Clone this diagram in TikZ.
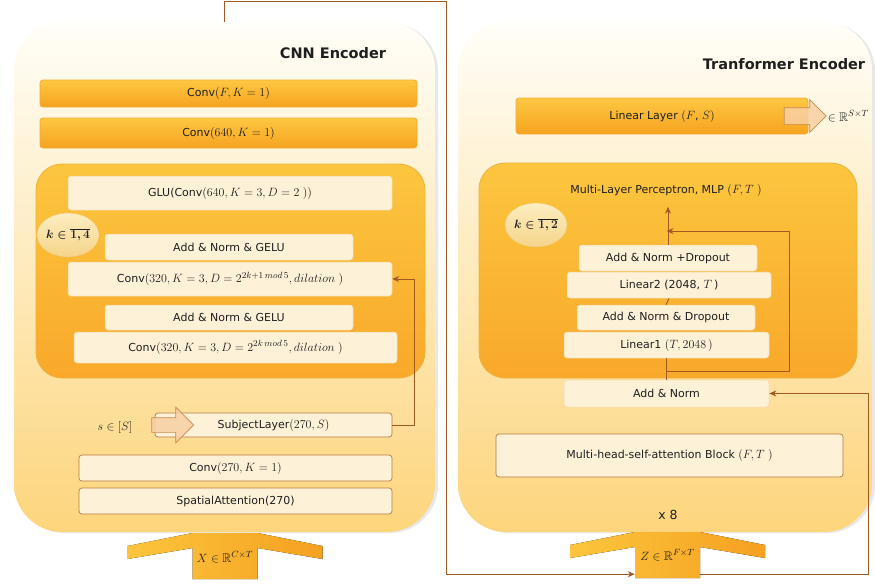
\documentclass[tikz,border=0pt]{standalone}
\usepackage{amsmath,amssymb}
\usepackage{fontspec}
\setmainfont{DejaVu Sans}
\DeclareMathSizes{11}{12.5}{9}{7}
\usetikzlibrary{shapes.geometric,shapes.arrows,shadows,arrows.meta,calc}

\definecolor{panelTop}{HTML}{FFFEF8}
\definecolor{panelBot}{HTML}{FDD57C}
\definecolor{hotTop}{HTML}{FDC742}
\definecolor{hotBot}{HTML}{F6A320}
\definecolor{hotLine}{HTML}{EFAE35}
\definecolor{grpTop}{HTML}{FCC63E}
\definecolor{grpBot}{HTML}{F9A82A}
\definecolor{grpLine}{HTML}{EDB23E}
\definecolor{cream}{HTML}{FDF1D8}
\definecolor{creamLine}{HTML}{F3D7A3}
\definecolor{brownLine}{HTML}{B87A40}
\definecolor{linkCol}{HTML}{A15A22}
\definecolor{peach}{HTML}{F8D0A4}
\definecolor{peachLine}{HTML}{C98A4E}
\definecolor{tagTop}{HTML}{FDEDC0}
\definecolor{tagBot}{HTML}{F5D48B}
\definecolor{tagLine}{HTML}{EFC56A}
\definecolor{inLeft}{HTML}{FCC53D}
\definecolor{inRight}{HTML}{F5A020}

\begin{document}
\begin{tikzpicture}[x=1pt,y=1pt,yscale=-1,xscale=1,
  every node/.style={font=\fontsize{11}{13}\selectfont, text=black!88},
  panel/.style={rounded corners=48, top color=panelTop, bottom color=panelBot,
    drop shadow={opacity=0.18, shadow xshift=3pt, shadow yshift=-1pt}},
  hot/.style={rounded corners=3, top color=hotTop, bottom color=hotBot, draw=hotLine, line width=0.8pt, inner sep=0},
  group/.style={rounded corners=26, top color=grpTop, bottom color=grpBot, draw=grpLine, line width=0.8pt},
  layer/.style={rounded corners=3, fill=cream, draw=creamLine, line width=0.5pt, inner sep=0},
  framed/.style={layer, draw=brownLine, line width=0.7pt},
  tag/.style={ellipse, top color=tagTop, bottom color=tagBot, draw=tagLine, inner sep=0,
    minimum width=55, minimum height=44, font=\fontsize{11}{13}\selectfont\boldmath},
  fat/.style={single arrow, fill=peach, fill opacity=0.85, draw=peachLine, line width=0.7pt,
    inner xsep=0, minimum height=42},
  title/.style={font=\fontsize{14.5}{17}\selectfont\bfseries},
  link/.style={draw=linkCol, line width=0.9pt, -{Stealth[length=7pt,width=6pt]}}]
\useasboundingbox (0,0) rectangle (875,584);

% encoders
\node[panel, minimum width=421, minimum height=510] (cnn) at (224.5,277) {};
\node[panel, minimum width=414, minimum height=510] (trf) at (665,277) {};

% ---- CNN encoder
\node[title] (cnntitle) at (333,53) {CNN Encoder};
\node[hot, minimum width=377, minimum height=27] (convF) at (228.5,93.5) {Conv$(F,K=1)$};
\node[hot, minimum width=377, minimum height=30] (conv640) at (228.5,133) {Conv$(640,K=1)$};
\node[group, minimum width=389, minimum height=214] (dilated) at (230.5,271) {};
\node[layer, minimum width=324, minimum height=34] (glu) at (230,193) {GLU(Conv$(640,K=3,D=2\;))$};
\node[tag] (kcnn) at (68,235) {$k\in\overline{1,4}$};
\node[layer, minimum width=248, minimum height=26] (gelu1) at (229,247) {Add \& Norm \& GELU};
\node[layer, minimum width=324, minimum height=34] (convA) at (230,279) {Conv$(320,K=3,D=2^{2k+1\,mod\,5},dilation\;)$};
\node[layer, minimum width=248, minimum height=25] (gelu2) at (229,317.5) {Add \& Norm \& GELU};
\node[layer, minimum width=323, minimum height=31] (convB) at (235.5,347.5) {Conv$(320,K=3,D=2^{2k\,mod\,5},dilation\;)$};

\node (sidx) at (115,427) {$s\in[S]$};
\node[framed, minimum width=237, minimum height=24] (subj) at (273.5,425) {SubjectLayer$(270,S)$};
\node[fat, inner ysep=7, single arrow head extend=10.5] (subjarrow) at (169,425) {};
\node[framed, minimum width=313, minimum height=26] (conv270) at (235.5,468) {Conv$(270,K=1)$};
\node[framed, minimum width=313, minimum height=26] (spatial) at (235.5,501) {SpatialAttention(270)};

\draw[link] (subj.east) -- ++(22,0) |- (convA.east);

% ---- Transformer encoder
\node[title] (trftitle) at (784,64) {Tranformer Encoder};
\node[hot, minimum width=292, minimum height=36] (linear) at (662,116) {Linear Layer $(F$, $S)$};
\node[fat, inner ysep=8, single arrow head extend=8] (outarrow) at (801,116) {};
\node[anchor=west, inner sep=1] (outdim) at (outarrow.tip) {$\in\mathbb{R}^{S\times T}$};

\node[group, minimum width=378, minimum height=215] (mlp) at (668,270.5) {};
\node (mlptitle) at (666,190) {Multi-Layer Perceptron, MLP $(F,T\;)$};
\node[tag] (ktrf) at (536,225) {$k\in\overline{1,2}$};
\node[layer, minimum width=178, minimum height=26] (drop2) at (668,258) {Add \& Norm +Dropout};
\node[layer, minimum width=204, minimum height=26] (lin2) at (669,285) {Linear2 (2048, $T$\,)};
\node[layer, minimum width=178, minimum height=25] (drop1) at (666,317.5) {Add \& Norm \& Dropout};
\node[layer, minimum width=205, minimum height=26] (lin1) at (666.5,345) {Linear1 $(T,2048\,)$};
\node[layer, minimum width=205, minimum height=27] (addn) at (666.5,393.5) {Add \& Norm};
\node[framed, minimum width=347, minimum height=43] (mhsa) at (669.5,455.5) {Multi-head-self-attention Block $(F,T\;)$};
\node[font=\fontsize{12.5}{14}\selectfont] (repeat) at (668,515) {x 8};

\coordinate (split) at (666.5,371);
\coordinate (merge) at (666.5,231);
\draw[draw=linkCol, line width=0.9pt] (addn.north) -- (lin1.south);
\draw[draw=linkCol, line width=0.9pt] (drop1.north) -- (lin2.south);
\draw[link] (drop2.north) -- ++(0,-38);
\draw[link] (split) -- ++(122.5,0) |- (merge);

% inputs
\fill[left color=inLeft, right color=inRight]
  (127.5,546) -- (192.5,533) -- (257.5,533) -- (322.5,546) -- (322.5,559) -- (257.5,548)
  -- (257.5,579) -- (192.5,579) -- (192.5,548) -- (127.5,559) -- cycle;
\node[inner sep=0, minimum width=65, minimum height=46] (xbox) at (225,557) {$X\in\mathbb{R}^{C\times T}$};
\fill[left color=inLeft, right color=inRight]
  (570,545) -- (635,532) -- (700,532) -- (765,545) -- (765,558) -- (700,547)
  -- (700,578) -- (635,578) -- (635,547) -- (570,558) -- cycle;
\node[inner sep=0, minimum width=65, minimum height=46] (zbox) at (667.5,555) {$Z\in\mathbb{R}^{F\times T}$};

% CNN output feeds the transformer; residual to the first Add & Norm
\draw[link] (cnn.north) -- ++(0,-20) -- ++(221.5,0) |- ($(zbox.south west)+(0,-4)$);
\draw[link] ($(zbox.south east)+(0,-4)$) -- ++(168,0) |- (addn.east);
\end{tikzpicture}
\end{document}
